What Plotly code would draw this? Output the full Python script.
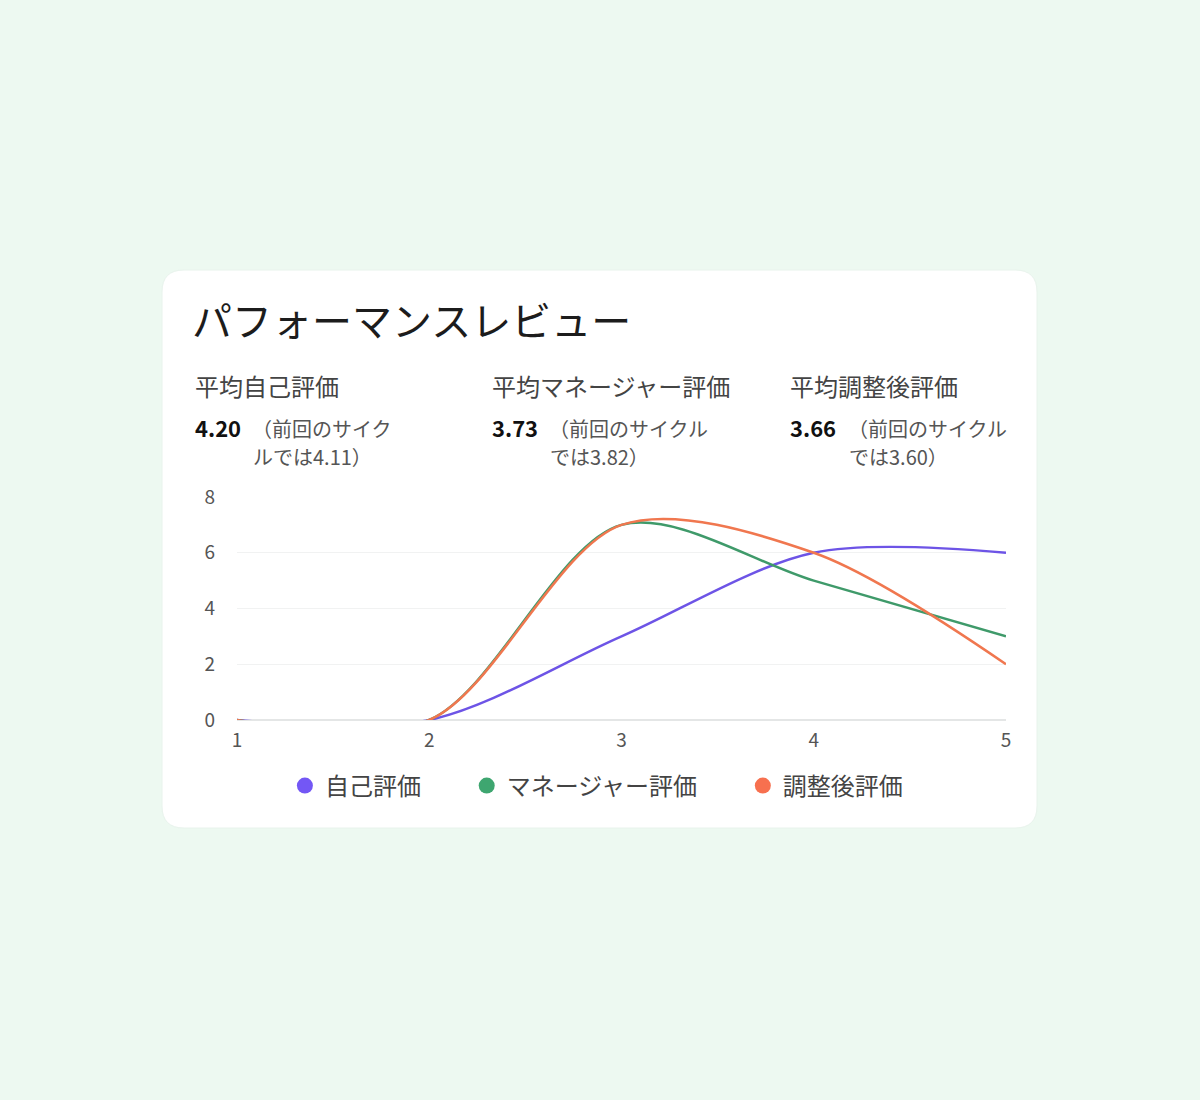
import plotly.graph_objects as go

W, H = 1200, 1100

# ---- data ----
x_vals = [1, 2, 3, 4, 5]
self_scores = [0, 0, 3, 6, 6]
manager_scores = [0, 0, 7, 5, 3]
adjusted_scores = [0, 0, 7, 6, 2]

series_names = ['自己評価', 'マネージャー評価', '調整後評価']
line_colors = ['#6d54e6', '#3f9a6a', '#f0774f']
marker_colors = ['#7357f5', '#3ea670', '#f7704f']

stat_labels = ['平均自己評価', '平均マネージャー評価', '平均調整後評価']
stat_values = ['4.20', '3.73', '3.66']
stat_notes_1 = ['（前回のサイク', '（前回のサイクル', '（前回のサイクル']
stat_notes_2 = ['ルでは4.11）', 'では3.82）', 'では3.60）']

title_text = 'パフォーマンスレビュー'

FONT = 'Noto Sans CJK JP'


def px_x(p):
    return p / W


def px_y(p):
    return 1 - p / H


def rounded_rect(x0, y0, x1, y1, r):
    # path in paper coords built from pixel values
    pts = [
        f'M {px_x(x0 + r)} {px_y(y0)}',
        f'L {px_x(x1 - r)} {px_y(y0)}',
        f'Q {px_x(x1)} {px_y(y0)} {px_x(x1)} {px_y(y0 + r)}',
        f'L {px_x(x1)} {px_y(y1 - r)}',
        f'Q {px_x(x1)} {px_y(y1)} {px_x(x1 - r)} {px_y(y1)}',
        f'L {px_x(x0 + r)} {px_y(y1)}',
        f'Q {px_x(x0)} {px_y(y1)} {px_x(x0)} {px_y(y1 - r)}',
        f'L {px_x(x0)} {px_y(y0 + r)}',
        f'Q {px_x(x0)} {px_y(y0)} {px_x(x0 + r)} {px_y(y0)}',
        'Z',
    ]
    return ' '.join(pts)


fig = go.Figure()

for name, ys, lc in zip(series_names, [self_scores, manager_scores, adjusted_scores], line_colors):
    fig.add_trace(go.Scatter(
        x=x_vals, y=ys, mode='lines', name=name,
        line=dict(color=lc, width=2.5, shape='spline', smoothing=0.9),
        showlegend=False, hoverinfo='skip'))

# legend-only circle markers (wide spaces keep the gaps between entries)
gap = '\u2003\u2002\u2009'
legend_labels = [series_names[0] + gap, series_names[1] + gap, series_names[2]]
for name, mc in zip(legend_labels, marker_colors):
    fig.add_trace(go.Scatter(
        x=[None], y=[None], mode='markers', name=name,
        marker=dict(color=mc, size=19, symbol='circle')))

# card background
fig.add_shape(type='path', xref='paper', yref='paper',
              path=rounded_rect(162, 270, 1037, 828, 22),
              fillcolor='white', line=dict(color='#e8f3ec', width=1), layer='below')

annotations = [
    dict(text=title_text, x=px_x(190), y=px_y(319), xanchor='left', yanchor='middle',
         font=dict(family=FONT, size=40, color='#1c1c1c')),
]

col_x = [193, 490, 788]
note_x = [250, 547, 846]
for i, cx in enumerate(col_x):
    nx = note_x[i]
    annotations.append(dict(text=stat_labels[i], x=px_x(cx), y=px_y(386), xanchor='left', yanchor='middle',
                            font=dict(family=FONT, size=24, color='#444444')))
    annotations.append(dict(text=f'<b>{stat_values[i]}</b>', x=px_x(cx), y=px_y(427),
                            xanchor='left', yanchor='middle',
                            font=dict(family=FONT, size=22, color='#111111')))
    annotations.append(dict(text=stat_notes_1[i], x=px_x(nx), y=px_y(428), xanchor='left', yanchor='middle',
                            font=dict(family=FONT, size=20, color='#555555')))
    annotations.append(dict(text=stat_notes_2[i], x=px_x(nx + 1), y=px_y(456), xanchor='left', yanchor='middle',
                            font=dict(family=FONT, size=20, color='#555555')))

for a in annotations:
    a.update(xref='paper', yref='paper', showarrow=False)

fig.update_layout(
    width=W, height=H, autosize=False,
    margin=dict(l=0, r=0, t=0, b=0, pad=0),
    paper_bgcolor='#edf9f1',
    plot_bgcolor='rgba(0,0,0,0)',
    font=dict(family=FONT, color='#555555'),
    annotations=annotations,
    xaxis=dict(
        domain=[px_x(237), px_x(1006)], automargin=False,
        range=[1, 5], tickvals=x_vals, showgrid=False, zeroline=False,
        showline=False, ticks='', ticklabelstandoff=7,
        tickfont=dict(family=FONT, size=19, color='#555555')),
    yaxis=dict(
        domain=[px_y(720), px_y(497)], automargin=False,
        range=[0, 8], tickvals=[0, 2, 4, 6, 8], showgrid=True,
        gridcolor='#f1f2f2', gridwidth=1, zeroline=True, zerolinecolor='#e4e6e6',
        zerolinewidth=1.5, showline=False, ticks='', ticklabelstandoff=21,
        tickfont=dict(family=FONT, size=19, color='#555555')),
    legend=dict(
        orientation='h', x=0.497, xanchor='center', y=px_y(786), yanchor='middle',
        font=dict(family=FONT, size=24, color='#444444'),
        bgcolor='rgba(0,0,0,0)', itemwidth=30),
    showlegend=True,
)

fig.write_html(
    'out.html',
    config={'displayModeBar': False, 'responsive': False},
    post_script="document.body.style.margin='0';document.body.style.overflow='hidden';")
